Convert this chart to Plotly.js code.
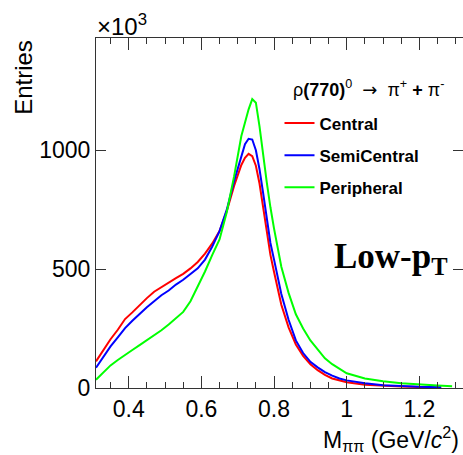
<!DOCTYPE html>
<html>
<head>
<meta charset="utf-8">
<script src="https://cdn.plot.ly/plotly-3.0.1.min.js"></script>
<style>html,body{margin:0;padding:0;background:#fff;}#chart{width:463px;height:455px;}</style>
</head>
<body>
<div id="chart"></div>
<script>
var mass = [0.31,0.33,0.35,0.37,0.39,0.41,0.43,0.45,0.47,0.49,0.51,0.53,0.55,0.57,0.59,0.61,0.63,0.65,0.67,0.69,0.71,0.72,0.73,0.74,0.75,0.76,0.77,0.78,0.79,0.80,0.82,0.84,0.86,0.88,0.90,0.92,0.94,0.96,0.98,1.00,1.05,1.10,1.15,1.20,1.26];
var massPeripheral = [0.31,0.33,0.35,0.37,0.39,0.41,0.43,0.45,0.47,0.49,0.51,0.53,0.55,0.57,0.59,0.61,0.63,0.65,0.67,0.69,0.71,0.72,0.73,0.74,0.75,0.76,0.77,0.78,0.79,0.80,0.82,0.84,0.86,0.88,0.90,0.92,0.94,0.96,0.98,1.00,1.05,1.10,1.15,1.20,1.25,1.29];
var central = [112,160,205,245,290,318,350,378,405,425,445,462,480,503,530,565,608,660,745,850,938,968,985,975,935,860,760,655,560,488,350,255,183,135,100,75,55,40,31,24,14,9,6,4,2];
var semiCentral = [85,130,175,213,252,283,312,340,365,390,410,435,455,478,503,540,595,660,750,870,980,1025,1048,1045,1000,920,820,710,610,540,395,287,200,147,110,87,67,52,40,32,20,12,8,5,3];
var peripheral = [35,66,95,118,140,160,180,200,222,243,267,292,320,365,425,490,560,625,740,890,1060,1120,1172,1215,1200,1100,970,865,760,670,510,400,310,250,200,160,125,100,82,62,40,28,20,14,10,7];
var seriesNames = ["Central","SemiCentral","Peripheral"];
var yTickVals = [0,500,1000];
var yTickText = ["0","500","1000"];

var colors = ["#ff0000","#0000ff","#00ff00"];
var xs = [mass, mass, massPeripheral];
var ys = [central, semiCentral, peripheral];
var traces = seriesNames.map(function(n,i){
  return {x: xs[i], y: ys[i], type:"scatter", mode:"lines", name:n,
          legendgroup:"g"+i, line:{color:colors[i], width:2}};
});

var sans = "Liberation Sans, Arial, sans-serif";
var layout = {
  width:463, height:455,
  margin:{l:96, r:0, t:38, b:67, pad:0},
  paper_bgcolor:"#fff", plot_bgcolor:"#fff",
  font:{family:sans, color:"#000"},
  showlegend:true,
  legend:{
    x:0.50, y:0.807, xanchor:"left", yanchor:"top",
    bgcolor:"rgba(0,0,0,0)", borderwidth:0,
    font:{family:sans, size:17, color:"#000", weight:"bold"},
    traceorder:"grouped", tracegroupgap:7
  },
  xaxis:{
    range:[0.31,1.32], showgrid:false, zeroline:false,
    showline:true, linecolor:"#333", linewidth:1, mirror:"ticks",
    ticks:"inside", ticklen:12, tickcolor:"#333", tickwidth:1,
    tick0:0, dtick:0.2, tickformat:".1~f",
    tickfont:{family:sans, size:23, color:"#000"},
    minor:{dtick:0.05, tick0:0, ticks:"inside", ticklen:6, tickcolor:"#333", showgrid:false}
  },
  yaxis:{
    range:[0,1472], showgrid:false, zeroline:false,
    showline:true, linecolor:"#333", linewidth:1, mirror:"ticks",
    ticks:"inside", ticklen:10, tickcolor:"#333", tickwidth:1,
    tickmode:"array", tickvals:yTickVals, ticktext:yTickText,
    tickfont:{family:sans, size:23, color:"#000"}
  },
  annotations:[
    {text:"×10<sup>3</sup>", xref:"paper", yref:"paper", x:-0.003, y:0.988, xanchor:"left", yanchor:"bottom",
     showarrow:false, font:{family:sans, size:24, color:"#000"}},
    {text:"Entries", xref:"paper", yref:"paper", x:-0.198, y:1.0, xanchor:"center", yanchor:"top", textangle:-90,
     showarrow:false, font:{family:sans, size:24, color:"#000"}},
    {text:"M<sub>ππ</sub> (GeV/<i>c</i><sup>2</sup>)", xref:"paper", yref:"paper", x:0.995, y:-0.146, xanchor:"right", yanchor:"middle",
     showarrow:false, font:{family:sans, size:23, color:"#000"}},
    {text:"ρ<b>(770)</b><sup>0</sup>  <span style=\"font-family:DejaVu Sans\">→</span>  π<sup>+</sup> <b>+</b> π<sup>-</sup>", xref:"paper", yref:"paper", x:0.532, y:0.857, xanchor:"left", yanchor:"middle",
     showarrow:false, font:{family:sans, size:18, color:"#000"}},
    {text:"<b>Low-p<sub>T</sub></b>", xref:"paper", yref:"paper", x:0.643, y:0.37, xanchor:"left", yanchor:"middle",
     showarrow:false, font:{family:"Liberation Serif, Times New Roman, serif", size:35, color:"#000"}}
  ]
};
Plotly.newPlot("chart", traces, layout, {displayModeBar:false, staticPlot:true});
</script>
</body>
</html>
